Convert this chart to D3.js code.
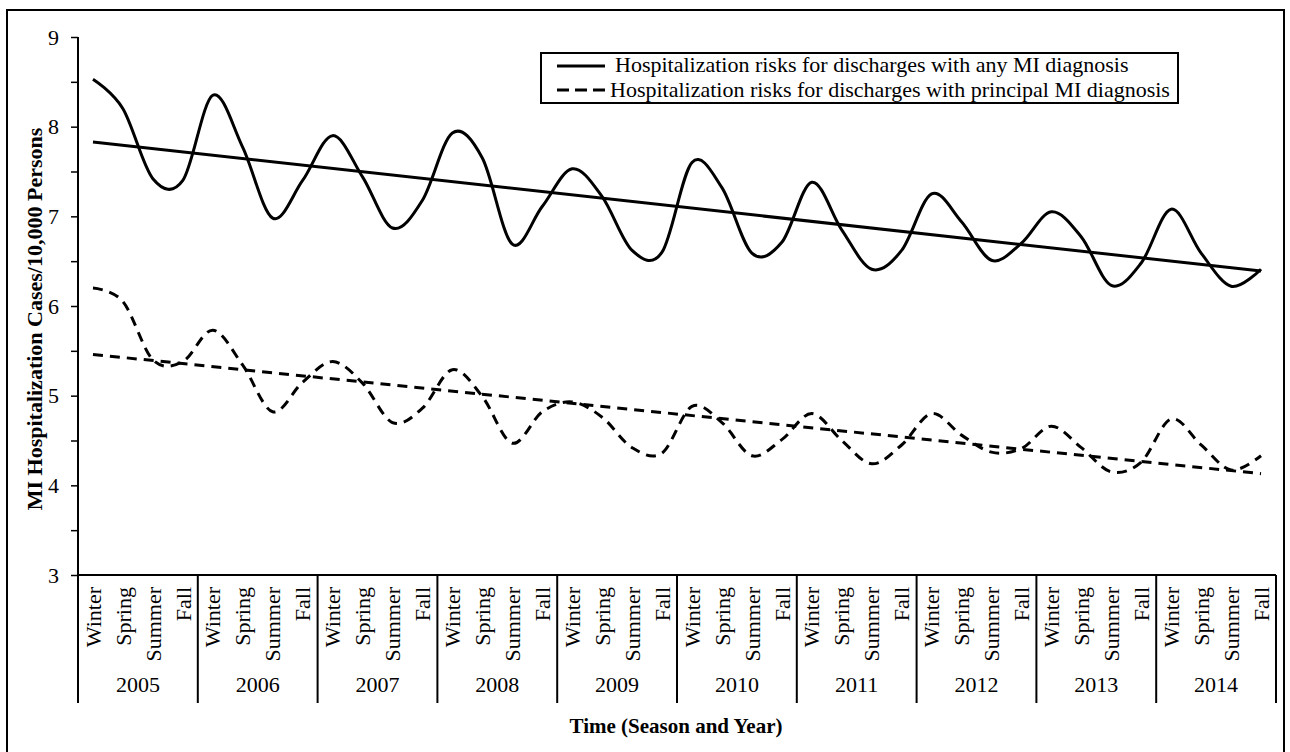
<!DOCTYPE html>
<html>
<head>
<meta charset="utf-8">
<script src="https://cdn.jsdelivr.net/npm/d3@7"></script>
<style>
  body { margin: 0; background: #fff; }
  text { font-family: "Liberation Serif", "Times New Roman", serif; fill: #000; }
</style>
</head>
<body>
<svg id="chart" width="1290" height="752"></svg>
<script>
// chart data
var years = ["2005","2006","2007","2008","2009","2010","2011","2012","2013","2014"];
var seasons = ["Winter","Spring","Summer","Fall"];
var anyMI = [8.53,8.20,7.42,7.40, 8.35,7.77,6.98,7.40, 7.90,7.44,6.87,7.18, 7.93,7.65,6.69,7.11,
             7.53,7.22,6.62,6.60, 7.60,7.32,6.59,6.71, 7.38,6.85,6.41,6.62, 7.25,6.94,6.51,6.70,
             7.05,6.77,6.23,6.48, 7.08,6.59,6.22,6.41];
var principalMI = [6.20,6.05,5.40,5.38, 5.73,5.34,4.82,5.15, 5.38,5.14,4.70,4.86, 5.29,4.99,4.47,4.82,
                   4.93,4.76,4.42,4.36, 4.88,4.70,4.33,4.51, 4.80,4.50,4.24,4.45, 4.80,4.56,4.37,4.41,
                   4.66,4.42,4.15,4.26, 4.74,4.45,4.17,4.33];
// linear trend lines, first and last value
var anyTrend = [7.83, 6.39];
var principalTrend = [5.46, 4.13];
var yTicks = [3,4,5,6,7,8,9];
var legendLabels = ["Hospitalization risks for discharges with any MI diagnosis",
                    "Hospitalization risks for discharges with principal MI diagnosis"];

var svg = d3.select("#chart");
var plotL = 78, plotR = 1276, plotT = 37, plotB = 575;

// outer frame
svg.append("rect")
  .attr("x", 7).attr("y", 10)
  .attr("width", 1277).attr("height", 760)
  .attr("fill", "none").attr("stroke", "#000").attr("stroke-width", 2);

var quarters = [];
years.forEach(function(yr){ seasons.forEach(function(s){ quarters.push(yr + " " + s); }); });

var x = d3.scaleBand().domain(quarters).range([plotL, plotR]);
var xYear = d3.scaleBand().domain(years).range([plotL, plotR]);
var y = d3.scaleLinear().domain([3, 9]).range([plotB, plotT]);
function cx(i){ return x(quarters[i]) + x.bandwidth() / 2; }

// y axis with half-unit minor ticks
var yAxis = d3.axisLeft(y)
  .tickValues(d3.range(3, 9.01, 0.5))
  .tickSize(7)
  .tickFormat(function(d){ return yTicks.indexOf(d) >= 0 ? d : ""; });
var gy = svg.append("g").attr("transform", "translate(" + plotL + ",0)").call(yAxis);
gy.select(".domain").remove();
gy.selectAll("line").attr("stroke", "#000").attr("stroke-width", 1.5);
gy.selectAll("text").style("font-size", "22px").attr("x", -19);

svg.append("line").attr("x1", plotL).attr("x2", plotL).attr("y1", plotT).attr("y2", 703)
  .attr("stroke", "#000").attr("stroke-width", 2);
svg.append("line").attr("x1", plotL).attr("x2", plotR).attr("y1", plotB).attr("y2", plotB)
  .attr("stroke", "#000").attr("stroke-width", 2);

// year separators
svg.append("g").selectAll("line")
  .data(years)
  .enter()
  .append("line")
    .attr("x1", function(d){ return xYear(d) + xYear.bandwidth(); })
    .attr("x2", function(d){ return xYear(d) + xYear.bandwidth(); })
    .attr("y1", plotB).attr("y2", 703)
    .attr("stroke", "#000").attr("stroke-width", 2);

// season labels
svg.append("g").selectAll("text")
  .data(quarters)
  .enter()
  .append("text")
    .attr("transform", function(d, i){ return "translate(" + cx(i) + ",587) rotate(-90)"; })
    .attr("text-anchor", "end")
    .attr("dy", "0.35em")
    .style("font-size", "22px")
    .text(function(d, i){ return seasons[i % 4]; });

// year labels
svg.append("g").selectAll("text")
  .data(years)
  .enter()
  .append("text")
    .attr("x", function(d){ return xYear(d) + xYear.bandwidth() / 2; })
    .attr("y", 692)
    .attr("text-anchor", "middle")
    .style("font-size", "22px")
    .text(function(d){ return d; });

// axis titles
svg.append("text")
  .attr("transform", "translate(42,319) rotate(-90)")
  .attr("text-anchor", "middle")
  .style("font-size", "22px").style("font-weight", "bold")
  .text("MI Hospitalization Cases/10,000 Persons");
svg.append("text")
  .attr("x", 676).attr("y", 733)
  .attr("text-anchor", "middle")
  .style("font-size", "21px").style("font-weight", "bold")
  .text("Time (Season and Year)");

// series
var line = d3.line()
  .x(function(d, i){ return cx(i); })
  .y(function(d){ return y(d); })
  .curve(d3.curveCardinal.tension(0));

svg.append("path").datum(anyMI)
  .attr("d", line)
  .attr("fill", "none").attr("stroke", "#000").attr("stroke-width", 3);
svg.append("path").datum(principalMI)
  .attr("d", line)
  .attr("fill", "none").attr("stroke", "#000").attr("stroke-width", 3)
  .attr("stroke-dasharray", "10,7");

function trend(t, dash){
  svg.append("line")
    .attr("x1", cx(0)).attr("y1", y(t[0]))
    .attr("x2", cx(quarters.length - 1)).attr("y2", y(t[1]))
    .attr("stroke", "#000").attr("stroke-width", 3)
    .attr("stroke-dasharray", dash);
}
trend(anyTrend, null);
trend(principalTrend, "10,7");

// legend
var lg = svg.append("g");
lg.append("rect")
  .attr("x", 541).attr("y", 53).attr("width", 637).attr("height", 50)
  .attr("fill", "#fff").attr("stroke", "#000").attr("stroke-width", 2);
lg.append("line").attr("x1", 557).attr("x2", 605).attr("y1", 66).attr("y2", 66)
  .attr("stroke", "#000").attr("stroke-width", 3);
lg.append("line").attr("x1", 557).attr("x2", 606).attr("y1", 90).attr("y2", 90)
  .attr("stroke", "#000").attr("stroke-width", 3).attr("stroke-dasharray", "12,6");
lg.append("text").attr("x", 615).attr("y", 72).style("font-size", "22px").text(legendLabels[0]);
lg.append("text").attr("x", 610).attr("y", 97).style("font-size", "22px").text(legendLabels[1]);
</script>
</body>
</html>
